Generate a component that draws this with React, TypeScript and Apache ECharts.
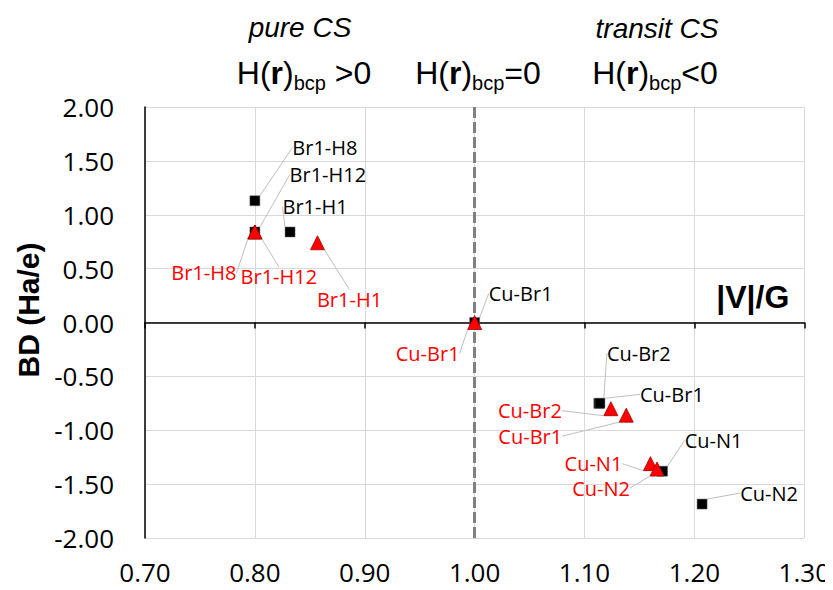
import React, { useEffect, useRef } from "react";
import * as echarts from "echarts";

// ---- data ----
const xTicks = [0.7, 0.8, 0.9, 1.0, 1.1, 1.2, 1.3];
const yTicks = [-2, -1.5, -1, -0.5, 0, 0.5, 1, 1.5, 2];

const blackNames = ["Br1-H8", "Br1-H12", "Br1-H1", "Cu-Br1", "Cu-Br2", "Cu-Br1", "Cu-N1", "Cu-N2"];
const blackX = [0.8, 0.8, 0.832, 1.0, 1.113, 1.114, 1.171, 1.207];
const blackY = [1.13, 0.84, 0.84, 0.0, -0.75, -0.75, -1.38, -1.685];

const redNames = ["Br1-H8", "Br1-H12", "Br1-H1", "Cu-Br1", "Cu-Br2", "Cu-Br1", "Cu-N1", "Cu-N2"];
const redX = [0.8, 0.8, 0.857, 1.0, 1.124, 1.138, 1.16, 1.166];
const redY = [0.84, 0.84, 0.74, 0.0, -0.8, -0.86, -1.31, -1.36];

const boundaryX = 1.0;

// label offsets (pixels from point to label centre) — layout only
const blackLabelOffsets = [
  [70, -53], [73, -57], [25, -25], [46, -29], [40, -50], [72, -9], [51, -31], [67, -11],
];
const redLabelOffsets = [
  [-51, 41], [24, 45], [32, 57], [-47, 31], [-81, 2], [-96, 21], [-57, 0], [-56, 19],
];

const FONT = "'Open Sans', 'Noto Sans', sans-serif";
const ARIAL = "'Liberation Sans', Arial, sans-serif";

function headerRich(tail: string) {
  return {
    text: `{n|H(}{b|r}{n|)}{s|bcp}{n|${tail}}`,
    rich: {
      n: { fontSize: 32, fontFamily: ARIAL, lineHeight: 38, fill: "#000" },
      b: { fontSize: 32, fontFamily: ARIAL, fontWeight: "bold", lineHeight: 38, fill: "#000" },
      s: { fontSize: 20, fontFamily: ARIAL, lineHeight: 18, padding: [20, 0, 0, 0], fill: "#000" },
    },
  };
}

export default function App() {
  const ref = useRef<HTMLDivElement>(null);
  useEffect(() => {
    if (!ref.current) return;
    const chart = echarts.init(ref.current, null, { renderer: "svg" });
    const blackData = blackX.map((x, i) => ({ value: [x, blackY[i]], name: blackNames[i] }));
    const redData = redX.map((x, i) => ({ value: [x, redY[i]], name: redNames[i] }));
    const offsets = [blackLabelOffsets, redLabelOffsets];

    const option: any = {
      animation: false,
      grid: { left: 145, right: 28, top: 107, bottom: 52, containLabel: false },
      xAxis: [
        {
          type: "value",
          min: xTicks[0],
          max: xTicks[xTicks.length - 1],
          interval: 0.1,
          position: "bottom",
          axisLine: { show: false, onZero: false },
          axisTick: { show: false },
          axisLabel: {
            formatter: (v: number) => v.toFixed(2),
            fontFamily: FONT,
            fontSize: 26,
            color: "#000",
            margin: 21,
          },
          splitLine: { show: true, lineStyle: { color: "#d9d9d9", width: 1 } },
        },
        {
          type: "value",
          min: xTicks[0],
          max: xTicks[xTicks.length - 1],
          interval: 0.1,
          position: "top",
          axisLine: { show: true, onZero: true, lineStyle: { color: "#000", width: 1.5 } },
          axisTick: { show: true, inside: true, length: 6, lineStyle: { color: "#000", width: 1.5 } },
          axisLabel: { show: false },
          splitLine: { show: false },
          name: "|V|/G",
          nameLocation: "end",
          nameGap: -15,
          nameTextStyle: {
            fontFamily: ARIAL,
            fontWeight: "bold",
            fontSize: 32,
            color: "#000",
            align: "right",
            verticalAlign: "bottom",
            padding: [0, 0, 10, 0],
          },
        },
      ],
      yAxis: {
        type: "value",
        min: yTicks[0],
        max: yTicks[yTicks.length - 1],
        interval: 0.5,
        axisLine: { show: true, onZero: false, lineStyle: { color: "#000", width: 1.5 } },
        axisTick: { show: false },
        axisLabel: {
          formatter: (v: number) => v.toFixed(2),
          fontFamily: FONT,
          fontSize: 26,
          color: "#000",
          margin: 31,
        },
        splitLine: { show: true, lineStyle: { color: "#d9d9d9", width: 1 } },
      },
      series: [
        {
          type: "scatter",
          xAxisIndex: 0,
          data: blackData,
          symbol: "rect",
          symbolSize: 10,
          z: 3,
          itemStyle: { color: "#000", borderColor: "#666", borderWidth: 0.5, opacity: 1 },
          label: {
            show: true,
            position: "inside",
            formatter: "{b}",
            fontFamily: FONT,
            fontSize: 20,
            lineHeight: 20,
            color: "#000",
          },
          labelLine: { show: true, lineStyle: { color: "#bfbfbf", width: 1 } },
          labelLayout: (p: any) => {
            const o = offsets[0][p.dataIndex];
            return { dx: o[0], dy: o[1] };
          },
          markLine: {
            silent: true,
            symbol: "none",
            z: 1,
            label: { show: false },
            lineStyle: { color: "#808080", width: 3, type: [11, 4] },
            data: [{ xAxis: boundaryX }],
          },
        },
        {
          type: "scatter",
          xAxisIndex: 0,
          data: redData,
          symbol: "triangle",
          symbolSize: 14,
          z: 4,
          itemStyle: { color: "#ff0000", borderColor: "#a00000", borderWidth: 0.8, opacity: 1 },
          label: {
            show: true,
            position: "inside",
            formatter: "{b}",
            fontFamily: FONT,
            fontSize: 20,
            lineHeight: 20,
            color: "#ff0000",
          },
          labelLine: { show: true, lineStyle: { color: "#bfbfbf", width: 1 } },
          labelLayout: (p: any) => {
            const o = offsets[1][p.dataIndex];
            return { dx: o[0], dy: o[1] };
          },
        },
      ],
      graphic: [
        {
          type: "text",
          x: 28,
          y: 310,
          rotation: Math.PI / 2,
          style: {
            text: "BD (Ha/e)",
            font: `bold 30px ${ARIAL}`,
            fill: "#000",
            align: "center",
            verticalAlign: "middle",
          },
        },
        {
          type: "text",
          x: 300,
          y: 27,
          style: {
            text: "pure CS",
            font: `italic 28px ${ARIAL}`,
            fill: "#000",
            align: "center",
            verticalAlign: "middle",
          },
        },
        {
          type: "text",
          x: 657,
          y: 28,
          style: {
            text: "transit CS",
            font: `italic 28px ${ARIAL}`,
            fill: "#000",
            align: "center",
            verticalAlign: "middle",
          },
        },
        {
          type: "text",
          x: 304,
          y: 73,
          style: { ...headerRich(" >0"), align: "center", verticalAlign: "middle" },
        },
        {
          type: "text",
          x: 478,
          y: 73,
          style: { ...headerRich("=0"), align: "center", verticalAlign: "middle" },
        },
        {
          type: "text",
          x: 655,
          y: 73,
          style: { ...headerRich("<0"), align: "center", verticalAlign: "middle" },
        },
      ],
    };
    chart.setOption(option);
    return () => chart.dispose();
  }, []);

  return <div ref={ref} style={{ width: 833, height: 590, margin: -8 }} />;
}
